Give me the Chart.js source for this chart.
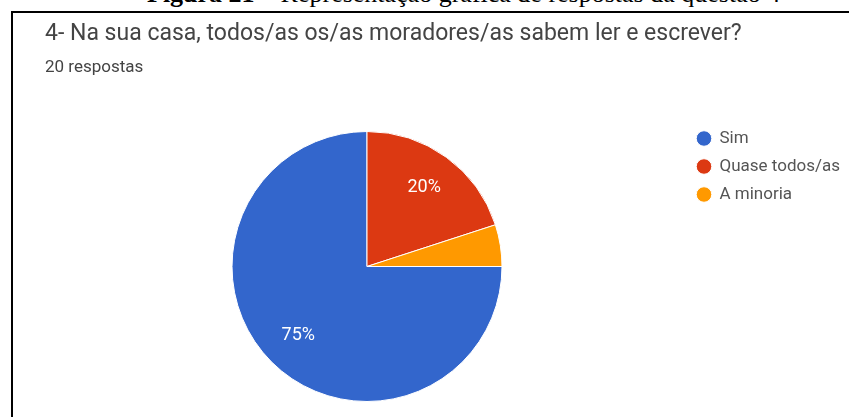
<!DOCTYPE html>
<html>
<head>
<meta charset="utf-8">
<script src="https://cdn.jsdelivr.net/npm/chart.js@4"></script>
<style>
  html, body { margin: 0; padding: 0; background: #fff; width: 849px; height: 417px; overflow: hidden; }
  #caption {
    position: absolute; left: 147px; top: -19px;
    font-family: "Liberation Serif", "Times New Roman", serif;
    font-size: 26px; line-height: 26px; white-space: nowrap; color: #000;
  }
  #frame {
    position: absolute; left: 11px; top: 11px; width: 900px; height: 500px;
    border-left: 2px solid #000; border-top: 2px solid #000; box-sizing: border-box;
  }
  #wrap { position: absolute; left: 0; top: 0; width: 849px; height: 417px; }
</style>
</head>
<body>
<div id="caption"><b>Figura 21 –</b> Representação gráfica de respostas da questão 4</div>
<div id="frame"></div>
<div id="wrap"><canvas id="c"></canvas></div>
<script>
const categories = ['Sim', 'Quase todos/as', 'A minoria'];
const counts = [15, 4, 1];
const colors = ['#3366cc', '#dc3912', '#ff9900'];
const titleText = '4- Na sua casa, todos/as os/as moradores/as sabem ler e escrever?';
const subtitleText = '20 respostas';

// Legend geometry: the legend column starts where the pie's area ends
const CANVAS_W = 849;
const PIE_AREA_RIGHT = 689;
const LEGEND_FONT = 17;
const LEGEND_PAD = 8;
const LEGEND_BOX = 14;
const measureCtx = document.createElement('canvas').getContext('2d');
measureCtx.font = LEGEND_FONT + 'px Roboto';
const widestLabel = Math.max(...categories.map(c => measureCtx.measureText(c).width));
// Chart.js sizes a vertical legend as padding + box + font/2 + text + 10
const legendWidth = LEGEND_PAD + LEGEND_BOX + LEGEND_FONT / 2 + widestLabel + 10;
const padRight = CANVAS_W - PIE_AREA_RIGHT - legendWidth;

// Percentage text inside each slice that is large enough to hold it
const sliceLabels = {
  id: 'sliceLabels',
  afterDatasetsDraw(chart) {
    const { ctx } = chart;
    const meta = chart.getDatasetMeta(0);
    const values = chart.data.datasets[0].data;
    const total = values.reduce((a, b) => a + b, 0);
    ctx.save();
    ctx.font = '18px Roboto';
    ctx.fillStyle = '#ffffff';
    ctx.textAlign = 'center';
    ctx.textBaseline = 'middle';
    meta.data.forEach((arc, i) => {
      const share = values[i] / total;
      if (share < 0.1) return;
      const { startAngle, endAngle, outerRadius, x, y } =
        arc.getProps(['startAngle', 'endAngle', 'outerRadius', 'x', 'y'], true);
      const mid = (startAngle + endAngle) / 2;
      const r = outerRadius * 0.72;
      ctx.fillText(Math.round(share * 100) + '%', x + Math.cos(mid) * r, y + Math.sin(mid) * r);
    });
    ctx.restore();
  }
};

new Chart(document.getElementById('c'), {
  type: 'pie',
  data: {
    // one-line arrays so legend rows are spaced by the label font's lineHeight
    labels: categories.map(c => [c]),
    datasets: [{
      data: counts,
      backgroundColor: colors,
      borderColor: '#ffffff',
      borderWidth: 1,
      radius: 135
    }]
  },
  options: {
    responsive: true,
    maintainAspectRatio: false,
    animation: false,
    rotation: 90,
    layout: { padding: { left: 45, top: 0, right: padRight, bottom: 6 } },
    plugins: {
      title: {
        display: true, text: titleText, align: 'start', color: '#444',
        font: { family: 'Roboto', size: 23, weight: 'normal', lineHeight: 1.2 },
        padding: { top: 20, bottom: 0 }
      },
      subtitle: {
        display: true, text: subtitleText, align: 'start', color: '#444',
        font: { family: 'Roboto', size: 17, lineHeight: 1.2 },
        padding: { top: 10.2, bottom: 43.8 }
      },
      legend: {
        position: 'right', align: 'start', fullSize: false,
        labels: {
          usePointStyle: true, pointStyle: 'circle',
          boxWidth: LEGEND_BOX, boxHeight: 11, padding: LEGEND_PAD, color: '#555',
          font: { family: 'Roboto', size: LEGEND_FONT, lineHeight: '20px' }
        }
      },
      tooltip: { enabled: false }
    }
  },
  plugins: [sliceLabels]
});
</script>
</body>
</html>
